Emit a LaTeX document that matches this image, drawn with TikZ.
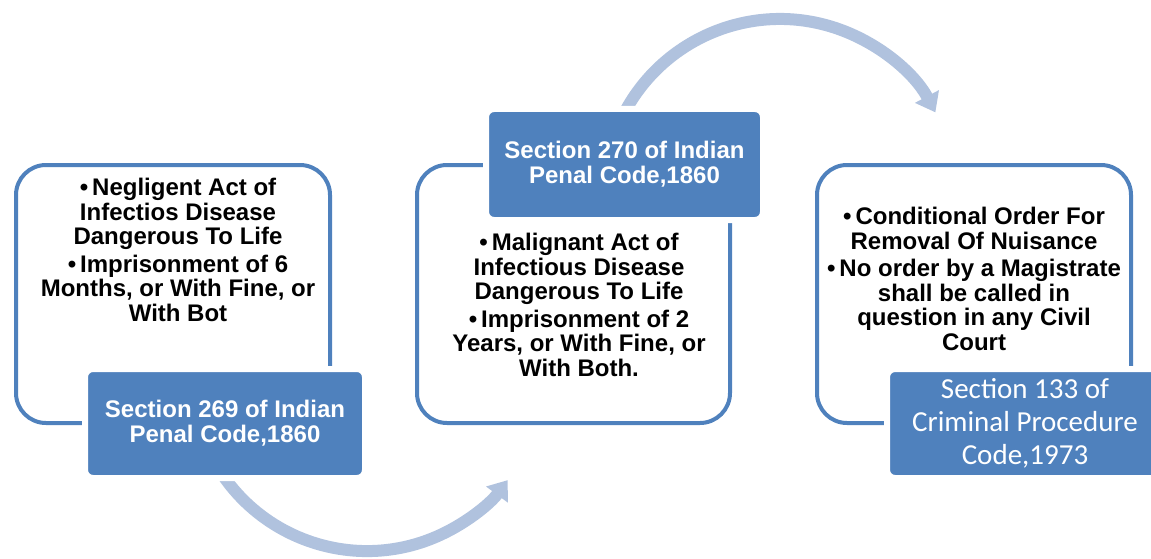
\documentclass[tikz,border=0pt]{standalone}
\usepackage{fontspec}
\setmainfont{Liberation Sans}
\newfontfamily\calibfont{Carlito}
\usetikzlibrary{arrows.meta}
\definecolor{accblue}{HTML}{4F81BD}
\definecolor{arrowblue}{HTML}{B0C2DE}
\begin{document}
\begin{tikzpicture}[x=1pt,y=-1pt,
  panel/.style={draw=accblue, line width=4pt, fill=white, rounded corners=30pt, inner sep=0pt, outer sep=0pt},
  label/.style={fill=accblue, draw=white, line width=6pt, rounded corners=8pt, text=white, align=center, inner sep=0pt, outer sep=0pt},
  boldlabel/.style={label, font=\bfseries\fontsize{24}{25}\selectfont},
  body/.style={font=\bfseries\fontsize{24}{24.5}\selectfont, align=center, inner sep=0pt, anchor=north},
  flow/.style={draw=arrowblue, line width=12pt, -{Triangle[length=18pt,width=26pt]}}
]
\useasboundingbox (0,0) rectangle (1151,559);
% curved arrows (drawn first, partly hidden by labels)
\coordinate (t1) at (208.4,450);
\draw[flow] (t1) arc[start angle=205, end angle=323.5, radius=175pt];
\coordinate (t2) at (614.6,134.8);
\draw[flow] (t2) arc[start angle=160, end angle=28, radius=176pt];
% panels
\node[panel, minimum width=314pt, minimum height=258pt] (p1) at (173,294) {};
\node[panel, minimum width=313pt, minimum height=258pt] (p2) at (573.5,294) {};
\node[panel, minimum width=314pt, minimum height=258pt] (p3) at (974,294) {};
% body texts
\node[body] (b1) at (178,178) {•\,Negligent Act of\\Infectios Disease\\Dangerous To Life\\[3pt]•\,Imprisonment of 6\\Months, or With Fine, or\\With Bot};
\node[body] (b2) at (579,233) {•\,Malignant Act of\\Infectious Disease\\Dangerous To Life\\[3pt]•\,Imprisonment of 2\\Years, or With Fine, or\\With Both.};
\node[body] (b3) at (974,207) {•\,Conditional Order For\\Removal Of Nuisance\\[3pt]•\,No order by a Magistrate\\shall be called in\\question in any Civil\\Court};
% labels
\node[boldlabel, minimum width=280pt, minimum height=109pt] (l1) at (225,423.5) {Section 269 of Indian\\Penal Code,1860};
\node[boldlabel, minimum width=277pt, minimum height=111pt] (l2) at (624.5,164.5) {Section 270 of Indian\\Penal Code,1860};
\node[label, font=\calibfont\fontsize{29}{33}\selectfont, minimum width=276pt, minimum height=109pt] (l3) at (1025,423.5) {Section 133 of\\Criminal Procedure\\Code,1973};
\end{tikzpicture}
\end{document}
